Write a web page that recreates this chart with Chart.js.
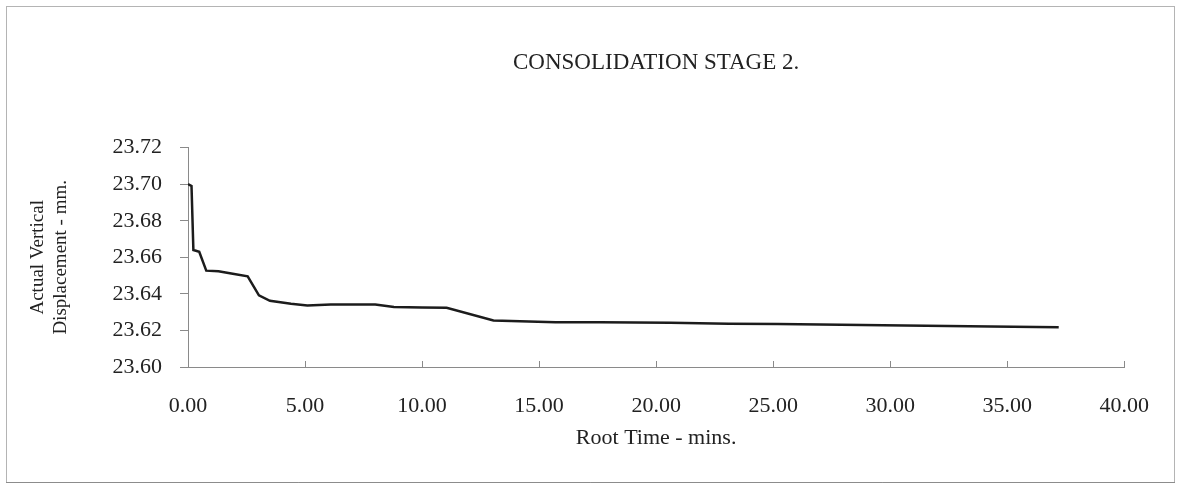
<!DOCTYPE html>
<html>
<head>
<meta charset="utf-8">
<script src="https://cdn.jsdelivr.net/npm/chart.js@4/dist/chart.umd.min.js"></script>
<style>
  html, body { margin: 0; padding: 0; background: #ffffff; }
  #wrap { width: 1181px; height: 489px; }
</style>
</head>
<body>
<div id="wrap"><canvas id="c" width="1181" height="489"></canvas></div>
<script>
// ---- data ----
const rootTime = [0, 0.15, 0.23, 0.48, 0.78, 1.3, 1.85, 2.55, 3.03, 3.5, 4.4, 5.1, 6.1, 8.0, 8.8, 10.0, 11.05, 13.05, 15.7, 17.6, 20.6, 23.1, 25.2, 29.7, 34.3, 37.2];
const displacement = [23.700, 23.699, 23.664, 23.663, 23.6527, 23.6524, 23.6511, 23.6496, 23.6392, 23.6362, 23.6346, 23.6337, 23.6342, 23.6342, 23.6328, 23.6325, 23.6324, 23.6254, 23.6245, 23.6245, 23.6242, 23.6237, 23.6235, 23.6228, 23.6222, 23.6218];
const xTickValues = [0, 5, 10, 15, 20, 25, 30, 35, 40];
const yTickValues = [23.60, 23.62, 23.64, 23.66, 23.68, 23.70, 23.72];
const chartTitle = 'CONSOLIDATION STAGE 2.';
const xTitle = 'Root Time - mins.';
const yTitle = ['Actual Vertical', 'Displacement - mm.'];

const points = rootTime.map((t, i) => ({ x: t, y: displacement[i] }));

const framePlugin = {
  id: 'frame',
  beforeDraw(chart) {
    const ctx = chart.ctx;
    ctx.save();
    ctx.fillStyle = '#ffffff';
    ctx.fillRect(0, 0, chart.width, chart.height);
    ctx.strokeStyle = '#b4b4b4';
    ctx.lineWidth = 1;
    ctx.strokeRect(6.5, 6.5, chart.width - 13, chart.height - 13);
    ctx.strokeStyle = '#8c8c8c';
    ctx.beginPath();
    ctx.moveTo(6, chart.height - 6.5);
    ctx.lineTo(chart.width - 6, chart.height - 6.5);
    ctx.stroke();
    ctx.restore();
  }
};

const serif = 'Liberation Serif, Times New Roman, serif';
const axisColor = '#8a8a8a';

new Chart(document.getElementById('c'), {
  type: 'line',
  data: {
    datasets: [{
      data: points,
      borderColor: '#1c1c1c',
      borderWidth: 2.5,
      pointRadius: 0,
      tension: 0,
      fill: false
    }]
  },
  options: {
    responsive: false,
    devicePixelRatio: 1,
    animation: false,
    parsing: false,
    layout: { padding: { top: 10, left: 10, right: 54, bottom: 20 } },
    plugins: {
      legend: { display: false },
      tooltip: { enabled: false },
      title: {
        display: true,
        text: chartTitle,
        fullSize: false,
        color: '#222222',
        font: { family: serif, size: 23, weight: 'normal', lineHeight: 1.2 },
        padding: { top: 39, bottom: 71 }
      }
    },
    scales: {
      x: {
        type: 'linear',
        min: 0,
        max: 40,
        afterBuildTicks(scale) { scale.ticks = xTickValues.map(v => ({ value: v })); },
        afterFit(scale) { scale.height = 102; },
        grid: { drawOnChartArea: false, drawTicks: true, tickLength: -6, color: axisColor },
        border: { display: true, color: axisColor, width: 1 },
        ticks: {
          color: '#222222',
          padding: 32,
          maxRotation: 0,
          font: { family: serif, size: 22 },
          callback: v => Number(v).toFixed(2)
        },
        title: {
          display: true,
          text: xTitle,
          color: '#222222',
          font: { family: serif, size: 22, lineHeight: 1.2 },
          padding: { top: 0, bottom: 18 }
        }
      },
      y: {
        type: 'linear',
        min: 23.60,
        max: 23.72,
        afterBuildTicks(scale) { scale.ticks = yTickValues.map(v => ({ value: v })); },
        afterFit(scale) { scale.width = 178; },
        grid: { drawOnChartArea: false, drawTicks: true, tickLength: 8, color: axisColor },
        border: { display: true, color: axisColor, width: 1 },
        ticks: {
          color: '#222222',
          padding: 18,
          font: { family: serif, size: 22 },
          callback: v => Number(v).toFixed(2)
        },
        title: {
          display: true,
          text: yTitle,
          color: '#222222',
          font: { family: serif, size: 19, lineHeight: 1.22 },
          padding: { top: 16, bottom: 0 }
        }
      }
    }
  },
  plugins: [framePlugin]
});
</script>
</body>
</html>
